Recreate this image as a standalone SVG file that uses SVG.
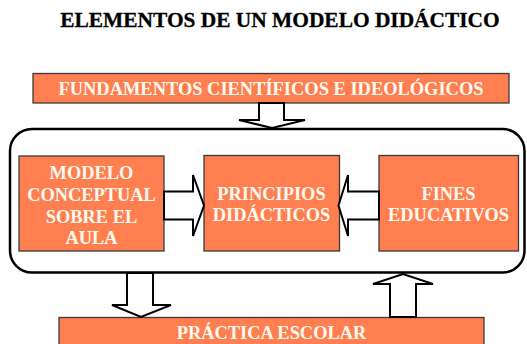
<svg xmlns="http://www.w3.org/2000/svg" width="527" height="344" viewBox="0 0 527 344">
<style>
.box{fill:#FF7F50;stroke:#3a3a3a;stroke-width:1.3}
.t{font-family:"Liberation Serif","Times New Roman",serif;font-weight:bold;font-size:18.4px;fill:#fffaf0;text-anchor:middle}
.arr{fill:#ffffff;stroke:#000000;stroke-width:2;stroke-linejoin:miter}
</style>
<rect width="527" height="344" fill="#ffffff"/>
<text x="280" y="27" font-family="'Liberation Serif','Times New Roman',serif" font-weight="bold" font-size="21.4" fill="#000" stroke="#000" stroke-width="0.3" text-anchor="middle">ELEMENTOS DE UN MODELO DIDÁCTICO</text>
<rect id="container" x="10" y="129" width="514.5" height="143.5" rx="22" ry="22" fill="none" stroke="#000" stroke-width="2.5"/>
<g id="fundamentos">
<rect class="box" x="33" y="73.5" width="476" height="29.5"/>
<text class="t" x="271" y="95" textLength="425" lengthAdjust="spacingAndGlyphs">FUNDAMENTOS CIENTÍFICOS E IDEOLÓGICOS</text>
</g>
<g id="modelo">
<rect class="box" x="19" y="156" width="145" height="95"/>
<text class="t" x="91.5" y="179">MODELO</text>
<text class="t" x="91.5" y="201">CONCEPTUAL</text>
<text class="t" x="91.5" y="222.5">SOBRE EL</text>
<text class="t" x="91.5" y="244">AULA</text>
</g>
<g id="principios">
<rect class="box" x="204" y="155.5" width="135.5" height="95.5"/>
<text class="t" x="271.5" y="200">PRINCIPIOS</text>
<text class="t" x="271.5" y="221">DIDÁCTICOS</text>
</g>
<g id="fines">
<rect class="box" x="379" y="155.5" width="139.5" height="95.5"/>
<text class="t" x="448.5" y="200">FINES</text>
<text class="t" x="448.5" y="221">EDUCATIVOS</text>
</g>
<g id="practica">
<rect class="box" x="59" y="317.5" width="425" height="30"/>
<text class="t" x="271.5" y="338.5">PRÁCTICA ESCOLAR</text>
</g>
<g id="connectors">
<polygon class="arr" points="259,103 284,103 284,120 305,120 272,128 239,120 259,120"/>
<polygon class="arr" points="164,191.5 193,191.5 193,175 204,205.5 193,236 193,219.5 164,219.5"/>
<polygon class="arr" points="379,191.5 348,191.5 348,175 338.5,205.5 348,236 348,219.5 379,219.5"/>
<polygon class="arr" points="127,273 153,273 153,305 171,305 141,317 112,305 127,305"/>
<polygon class="arr" points="390,317 390,284 373,284 403,274 433,284 416,284 416,317"/>
</g>
</svg>
